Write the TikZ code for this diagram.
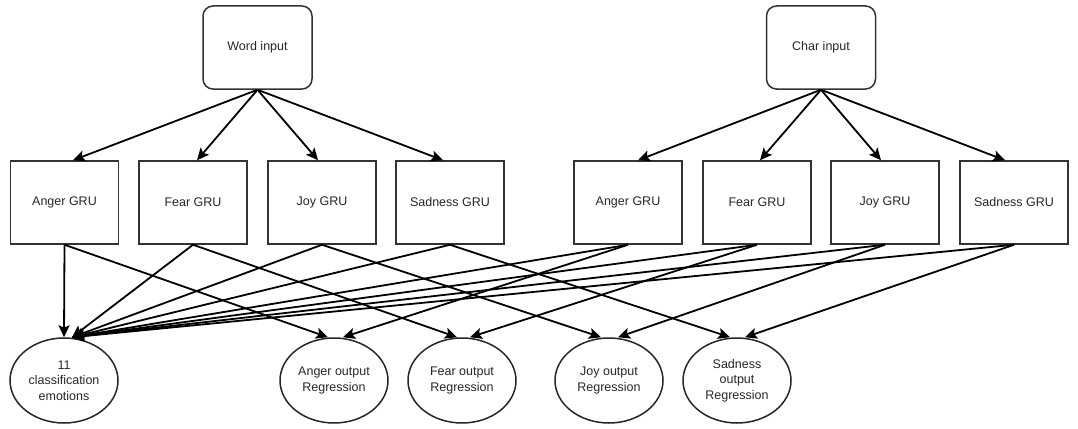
\documentclass[tikz,border=0pt]{standalone}
\usepackage{fontspec}
\setmainfont{Liberation Sans}
\usetikzlibrary{arrows.meta,calc,shapes.geometric}
\begin{document}
\begin{tikzpicture}[x=1pt,y=-1pt,
  every node/.style={font=\fontsize{12.5}{15.5}\selectfont, text=black!85},
  inbox/.style={draw=black!80, line width=1.5pt, rounded corners=10pt, minimum width=109pt, minimum height=83pt, inner sep=0pt},
  grubox/.style={draw=black!80, line width=1.5pt, minimum width=108pt, minimum height=83pt, inner sep=0pt},
  outell/.style={draw=black!85, line width=1.5pt, ellipse, minimum width=108pt, minimum height=85pt, inner sep=0pt, align=center},
  conn/.style={draw=black, line width=1.8pt, -{Stealth[length=12pt,width=11pt,inset=2.5pt]}}
]
\useasboundingbox (0,0) rectangle (1078,428);
% inputs
\node[inbox] (winput) at (257.5,47.5) {Word input};
\node[inbox] (cinput) at (821,47.5) {Char input};
% GRUs
\node[grubox] (wa) at (64.5,202.5) {Anger GRU};
\node[grubox] (wf) at (193,202.5) {Fear GRU};
\node[grubox] (wj) at (322,202.5) {Joy GRU};
\node[grubox] (ws) at (450,202.5) {Sadness GRU};
\node[grubox] (ca) at (628,202.5) {Anger GRU};
\node[grubox] (cf) at (757,202.5) {Fear GRU};
\node[grubox] (cj) at (885,202.5) {Joy GRU};
\node[grubox] (cs) at (1014,202.5) {Sadness GRU};
% outputs
\node[outell] (cls) at (64,380.5) {11\\classification\\emotions};
\node[outell] (ao) at (334,380.5) {Anger output\\Regression};
\node[outell] (fo) at (462,380.5) {Fear output\\Regression};
\node[outell] (jo) at (609,380.5) {Joy output\\Regression};
\node[outell] (so) at (737,380.5) {Sadness\\output\\Regression};
% input to GRU
\draw[conn] (winput.south) -- ($(wa.north)+(8.5,0)$);
\draw[conn] (winput.south) -- ($(wf.north)+(4,0)$);
\draw[conn] (winput.south) -- ($(wj.north)+(-4,0)$);
\draw[conn] (winput.south) -- ($(ws.north)+(-7,0)$);
\draw[conn] (cinput.south) -- ($(ca.north)+(10,0)$);
\draw[conn] (cinput.south) -- ($(cf.north)+(3,0)$);
\draw[conn] (cinput.south) -- ($(cj.north)+(-4,0)$);
\draw[conn] (cinput.south) -- ($(cs.north)+(-9,0)$);
% GRU to classification
\draw[conn] (wa.south) -- (cls.north);
\foreach \g in {wf,wj,ws,ca,cf,cj,cs}
  \draw[conn] (\g.south) -- ($(cls.north)+(8,0)$);
% GRU to regression
\draw[conn] (wa.south) -- ($(ao.north)+(-6,0)$);
\draw[conn] (ca.south) -- ($(ao.north)+(9,0)$);
\draw[conn] (wf.south) -- ($(fo.north)+(-5,0)$);
\draw[conn] (cf.south) -- ($(fo.north)+(8,0)$);
\draw[conn] (wj.south) -- ($(jo.north)+(-8,0)$);
\draw[conn] (cj.south) -- ($(jo.north)+(9,0)$);
\draw[conn] (ws.south) -- ($(so.north)+(-7,0)$);
\draw[conn] (cs.south) -- ($(so.north)+(8,0)$);
\end{tikzpicture}
\end{document}
